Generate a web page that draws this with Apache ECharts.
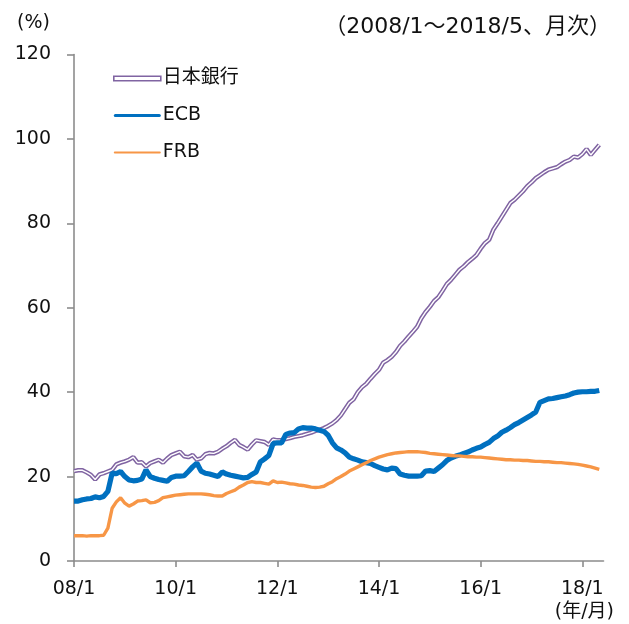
<!DOCTYPE html>
<html>
<head>
<meta charset="utf-8">
<script src="https://cdn.jsdelivr.net/npm/echarts@6/dist/echarts.min.js"></script>
<style>html,body{margin:0;padding:0;background:#fff}#c{width:629px;height:624px}</style>
</head>
<body>
<div id="c"></div>
<script>
// Monthly, 2008/1 .. 2018/5 (central bank total assets, % of nominal GDP)
var startYear = 2008, startMonth = 1, nMonths = 126; // axis runs to 2018/6
var tickEvery = 24;
var seriesNames = ['日本銀行', 'ECB', 'FRB'];

var boj = [
  21.3, 21.5, 21.5, 21.0, 20.4, 19.3, 20.5, 20.8, 21.2, 21.6, 22.9, 23.3,
  23.6, 24.0, 24.6, 23.3, 23.4, 22.4, 23.2, 23.6, 24.0, 23.3, 24.3, 25.1,
  25.5, 25.9, 24.8, 24.6, 25.1, 24.0, 24.3, 25.3, 25.6, 25.5, 25.9, 26.6,
  27.2, 28.0, 28.7, 27.5, 27.0, 26.4, 27.6, 28.6, 28.4, 28.2, 27.5, 28.8,
  28.6, 28.7, 28.9, 29.1, 29.4, 29.6, 29.8, 30.1, 30.4, 30.8, 31.1, 31.5,
  32.0, 32.6, 33.4, 34.5, 36.0, 37.5, 38.3, 40.0, 41.2, 42.0, 43.2, 44.3,
  45.3, 47.0, 47.6, 48.4, 49.5, 51.0, 52.0, 53.2, 54.3, 55.5, 57.5, 59.0,
  60.2, 61.6, 62.5, 64.0, 65.6, 66.6, 67.8, 69.0, 69.8, 70.8, 71.6, 72.5,
  74.0, 75.3, 76.1, 78.5, 80.0, 81.6, 83.2, 84.8, 85.6, 86.6, 87.6, 88.8,
  89.7, 90.7, 91.4, 92.1, 92.7, 93.0, 93.3, 94.0, 94.6, 95.0, 95.8, 95.6,
  96.4, 97.6, 96.2, 97.4, 98.6
];
var ecb = [
  14.2, 14.2, 14.5, 14.7, 14.8, 15.2, 15.0, 15.3, 16.5, 20.8, 20.7, 21.2,
  20.0, 19.2, 19.0, 19.1, 19.4, 21.6, 20.0, 19.6, 19.3, 19.1, 18.9, 19.8,
  20.1, 20.1, 20.2, 21.2, 22.3, 23.2, 21.3, 20.8, 20.6, 20.3, 20.0, 21.1,
  20.6, 20.3, 20.1, 19.9, 19.7, 19.8, 20.5, 21.1, 23.5, 24.2, 25.0, 27.8,
  28.0, 28.0, 30.0, 30.3, 30.4, 31.3, 31.6, 31.5, 31.5, 31.3, 31.0, 30.7,
  29.8, 28.0, 26.8, 26.3, 25.6, 24.6, 24.2, 23.9, 23.5, 23.3, 23.1, 22.6,
  22.2, 21.8, 21.6, 22.0, 21.9, 20.6, 20.3, 20.1, 20.1, 20.1, 20.2, 21.3,
  21.4, 21.2, 22.0, 22.8, 23.8, 24.4, 24.8, 25.1, 25.5, 25.8, 26.3, 26.7,
  27.0, 27.6, 28.1, 29.0, 29.6, 30.5, 31.0, 31.6, 32.3, 32.8, 33.4, 34.0,
  34.6, 35.3, 37.6, 38.0, 38.4, 38.5, 38.7, 38.9, 39.1, 39.4, 39.8, 40.0,
  40.1, 40.1, 40.2, 40.2, 40.4
];
var frb = [
  6.0, 6.0, 6.0, 5.9, 6.0, 6.0, 6.0, 6.1, 7.8, 12.5, 14.0, 15.0,
  13.7, 13.0, 13.5, 14.2, 14.3, 14.5, 13.8, 13.9, 14.3, 15.0, 15.2, 15.4,
  15.6, 15.7, 15.8, 15.9, 15.9, 15.9, 15.9, 15.8, 15.7, 15.5, 15.4, 15.4,
  16.0, 16.4, 16.8, 17.5, 18.0, 18.6, 18.8, 18.6, 18.6, 18.4, 18.2, 19.0,
  18.6, 18.7, 18.5, 18.3, 18.2, 18.0, 17.9, 17.7, 17.5, 17.4, 17.5, 17.7,
  18.3, 18.8, 19.5, 20.0, 20.6, 21.3, 21.8, 22.3, 22.8, 23.3, 23.8, 24.2,
  24.6, 24.9, 25.2, 25.4, 25.6, 25.7, 25.8, 25.9, 25.9, 25.9, 25.8, 25.7,
  25.5, 25.4, 25.3, 25.2, 25.1, 25.0, 24.9, 24.9, 24.8, 24.7, 24.7, 24.6,
  24.6, 24.5, 24.4, 24.3, 24.2, 24.1, 24.0, 24.0, 23.9, 23.9, 23.8, 23.8,
  23.7, 23.6, 23.6, 23.5, 23.5, 23.4, 23.3, 23.3, 23.2, 23.1, 23.0, 22.9,
  22.7, 22.5, 22.3, 22.0, 21.7
];
var yTicks = [0, 20, 40, 60, 80, 100, 120];

var categories = [];
for (var k = 0; k < nMonths; k++) {
  var m0 = startMonth - 1 + k;
  categories.push((startYear + Math.floor(m0 / 12)) + '/' + (m0 % 12 + 1));
}
function xLabel(v) {
  var p = v.split('/');
  return p[0].slice(2) + '/' + p[1];
}

var FONT = "'DejaVu Sans', 'Noto Sans CJK JP', sans-serif";
var AXIS = '#8c8c8c';
var TXT = '#111';
var chart = echarts.init(document.getElementById('c'), null, {renderer: 'canvas'});
chart.setOption({
  animation: false,
  backgroundColor: '#fff',
  textStyle: {fontFamily: FONT, color: TXT},
  title: [
    {text: '（2008/1～2018/5、月次）', right: 13, top: 11,
     textStyle: {fontFamily: FONT, fontSize: 22, fontWeight: 'normal', color: TXT}},
    {text: '(%)', left: 12, top: 9,
     textStyle: {fontFamily: FONT, fontSize: 19, fontWeight: 'normal', color: TXT}},
    {text: '(年/月)', right: 10, top: 598,
     textStyle: {fontFamily: FONT, fontSize: 19, fontWeight: 'normal', color: TXT}}
  ],
  legend: {
    orient: 'vertical', left: 108, top: 64,
    itemWidth: 47, itemHeight: 14, itemGap: 18,
    symbolKeepAspect: true,
    textStyle: {fontFamily: FONT, fontSize: 19, color: TXT, padding: [0, 0, 0, -3]},
    data: [
      {name: seriesNames[0], icon: 'path://M0,0 L94,0 L94,9 L0,9 Z',
       itemStyle: {color: '#fff', borderColor: '#8064A2', borderWidth: 1.6}},
      {name: seriesNames[1], icon: 'path://M3,0 L91,0 A3,3 0 0 1 91,6 L3,6 A3,3 0 0 1 3,0 Z',
       itemStyle: {color: '#0070C0', borderWidth: 0}},
      {name: seriesNames[2], icon: 'path://M2,0 L92,0 A2,2 0 0 1 92,4 L2,4 A2,2 0 0 1 2,0 Z',
       itemStyle: {color: '#F79646', borderWidth: 0}}
    ]
  },
  grid: {left: 74, right: 25.5, top: 54.5, bottom: 63, containLabel: false},
  xAxis: {
    type: 'category', data: categories, boundaryGap: false,
    axisLine: {lineStyle: {color: AXIS, width: 1.6}},
    axisTick: {length: 6, interval: function (i) { return i % tickEvery === 0; },
               lineStyle: {color: AXIS, width: 1.6}},
    axisLabel: {interval: function (i) { return i % tickEvery === 0; },
                formatter: xLabel, margin: 19, fontSize: 19, color: TXT, fontFamily: FONT},
    splitLine: {show: false}
  },
  yAxis: {
    type: 'value', min: yTicks[0], max: yTicks[yTicks.length - 1], interval: 20,
    axisLine: {show: true, lineStyle: {color: AXIS, width: 1.6}},
    axisTick: {show: true, length: 7, lineStyle: {color: AXIS, width: 1.6}},
    axisLabel: {margin: 23, fontSize: 19, color: TXT, fontFamily: FONT},
    splitLine: {show: false}
  },
  series: [
    {name: seriesNames[0], type: 'line', data: boj, symbol: 'none', z: 2,
     itemStyle: {color: '#8064A2'}, lineStyle: {color: '#8064A2', width: 4.4}},
    {name: '_boj_inner', type: 'line', data: boj, symbol: 'none', z: 2,
     legendHoverLink: false, silent: true,
     itemStyle: {color: '#fff'}, lineStyle: {color: '#fff', width: 1.4}},
    {name: seriesNames[1], type: 'line', data: ecb, symbol: 'none', z: 3,
     itemStyle: {color: '#0070C0'}, lineStyle: {color: '#0070C0', width: 5.2}},
    {name: seriesNames[2], type: 'line', data: frb, symbol: 'none', z: 4,
     itemStyle: {color: '#F79646'}, lineStyle: {color: '#F79646', width: 3.4}}
  ]
});
</script>
</body>
</html>
